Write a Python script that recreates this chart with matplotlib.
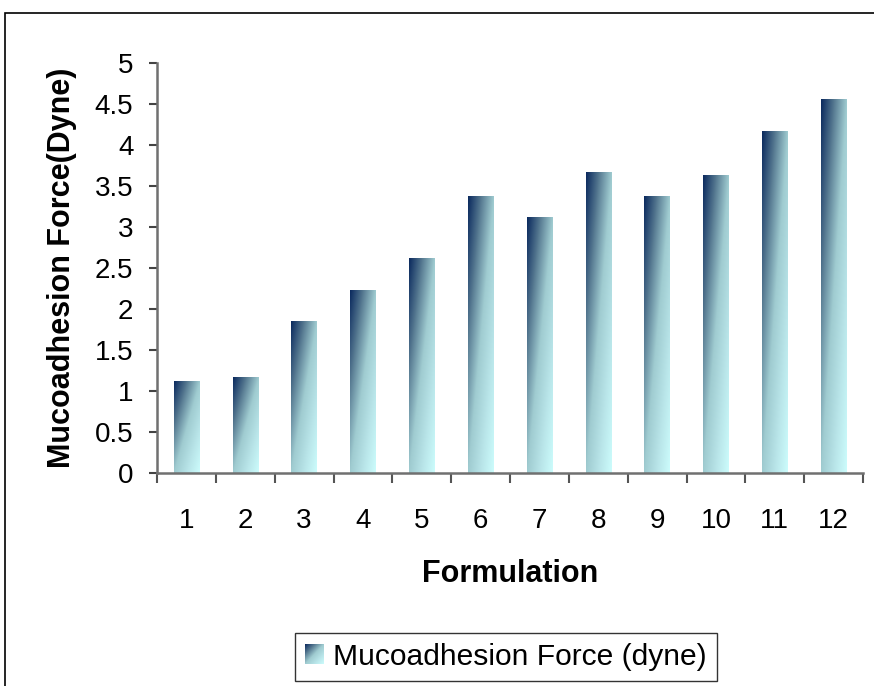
import numpy as np
import matplotlib
matplotlib.use("Agg")
import matplotlib.pyplot as plt
from matplotlib.colors import LinearSegmentedColormap
from matplotlib.patches import Rectangle
from matplotlib.legend_handler import HandlerBase
from matplotlib.image import BboxImage
from matplotlib.transforms import Bbox, TransformedBbox

plt.rcParams['font.family'] = ['Liberation Sans', 'DejaVu Sans']

categories = ['1', '2', '3', '4', '5', '6', '7', '8', '9', '10', '11', '12']
values = [1.12, 1.16, 1.85, 2.23, 2.61, 3.37, 3.11, 3.66, 3.37, 3.63, 4.16, 4.56]
series_name = 'Mucoadhesion Force (dyne)'
yticks = [0, 0.5, 1, 1.5, 2, 2.5, 3, 3.5, 4, 4.5, 5]
ytick_labels = ['0', '0.5', '1', '1.5', '2', '2.5', '3', '3.5', '4', '4.5', '5']

cmap = LinearSegmentedColormap.from_list(
    'grad', [(0.0, '#0b2a5e'), (0.25, '#557890'), (0.5, '#9fcbd0'),
             (0.75, '#b8e4e8'), (1.0, '#ccfcfc')])

n = 64
u = np.linspace(0, 1, n)[None, :]
v = np.linspace(0, 1, n)[:, None]
grad = (u + v) / 2.0  # row 0 = top


class GradHandler(HandlerBase):
    def create_artists(self, legend, orig_handle, xdescent, ydescent,
                       width, height, fontsize, trans):
        bb = Bbox.from_bounds(-xdescent, -ydescent, width, height)
        tbb = TransformedBbox(bb, trans)
        img = BboxImage(tbb, cmap=cmap, interpolation='bilinear', norm=plt.Normalize(0, 1))
        img.set_data(grad)
        return [img]


fig = plt.figure(figsize=(8.74, 6.86), dpi=100)
ax = fig.add_axes([157 / 874, 1 - 473 / 686, (863 - 157) / 874, (473 - 63) / 686])

x = np.arange(len(categories))
width = 0.43
bars = ax.bar(x, values, width=width, color='none', edgecolor='none')
for b in bars:
    x0, y0 = b.get_x(), b.get_y()
    w, h = b.get_width(), b.get_height()
    ax.imshow(grad, cmap=cmap, norm=plt.Normalize(0, 1), extent=[x0, x0 + w, y0, y0 + h],
              origin='upper', aspect='auto', interpolation='bilinear', zorder=2)

ax.set_xlim(-0.5, len(categories) - 0.5)
ax.set_ylim(0, 5)

ax.set_yticks(yticks)
ax.set_yticklabels(ytick_labels)
ax.set_xticks(x)
ax.set_xticklabels(categories)
ax.set_xticks(np.arange(-0.5, len(categories), 1.0), minor=True)
ax.tick_params(axis='x', which='major', length=0, pad=25, labelsize=20)
ax.tick_params(axis='x', which='minor', length=7, width=1.5, color='#555555', direction='out')
ax.tick_params(axis='y', which='major', length=6, width=1.5, color='#444444', pad=11, labelsize=20)

for s in ['top', 'right']:
    ax.spines[s].set_visible(False)
for s in ['left', 'bottom']:
    ax.spines[s].set_color('#707070')
    ax.spines[s].set_linewidth(1.8)

ax.set_xlabel('Formulation', fontsize=22, fontweight='bold')
ax.xaxis.set_label_coords(0.5, -0.247)
ax.xaxis.label.set_va('center')
ax.set_ylabel('Mucoadhesion Force(Dyne)', fontsize=22, fontweight='bold')
ax.yaxis.set_label_coords(-0.135, 0.5)
ax.yaxis.label.set_va('center')

proxy = Rectangle((0, 0), 1, 1)
leg = fig.legend([proxy], [series_name], handler_map={Rectangle: GradHandler()},
                 loc='center', bbox_to_anchor=(506 / 874, 1 - 657 / 686),
                 fontsize=21.6, frameon=True, fancybox=False, shadow=False,
                 handlelength=0.62, handleheight=0.62, handletextpad=0.3,
                 borderpad=0.33, borderaxespad=0)
leg.get_frame().set_edgecolor('black')
leg.get_frame().set_linewidth(1.0)

border = Rectangle((5 / 874, -0.5), 2.0, 1.5 - 12.5 / 686, transform=fig.transFigure,
                   fill=False, edgecolor='black', linewidth=1.2)
fig.patches.append(border)

fig.savefig('out.png', dpi=100)
